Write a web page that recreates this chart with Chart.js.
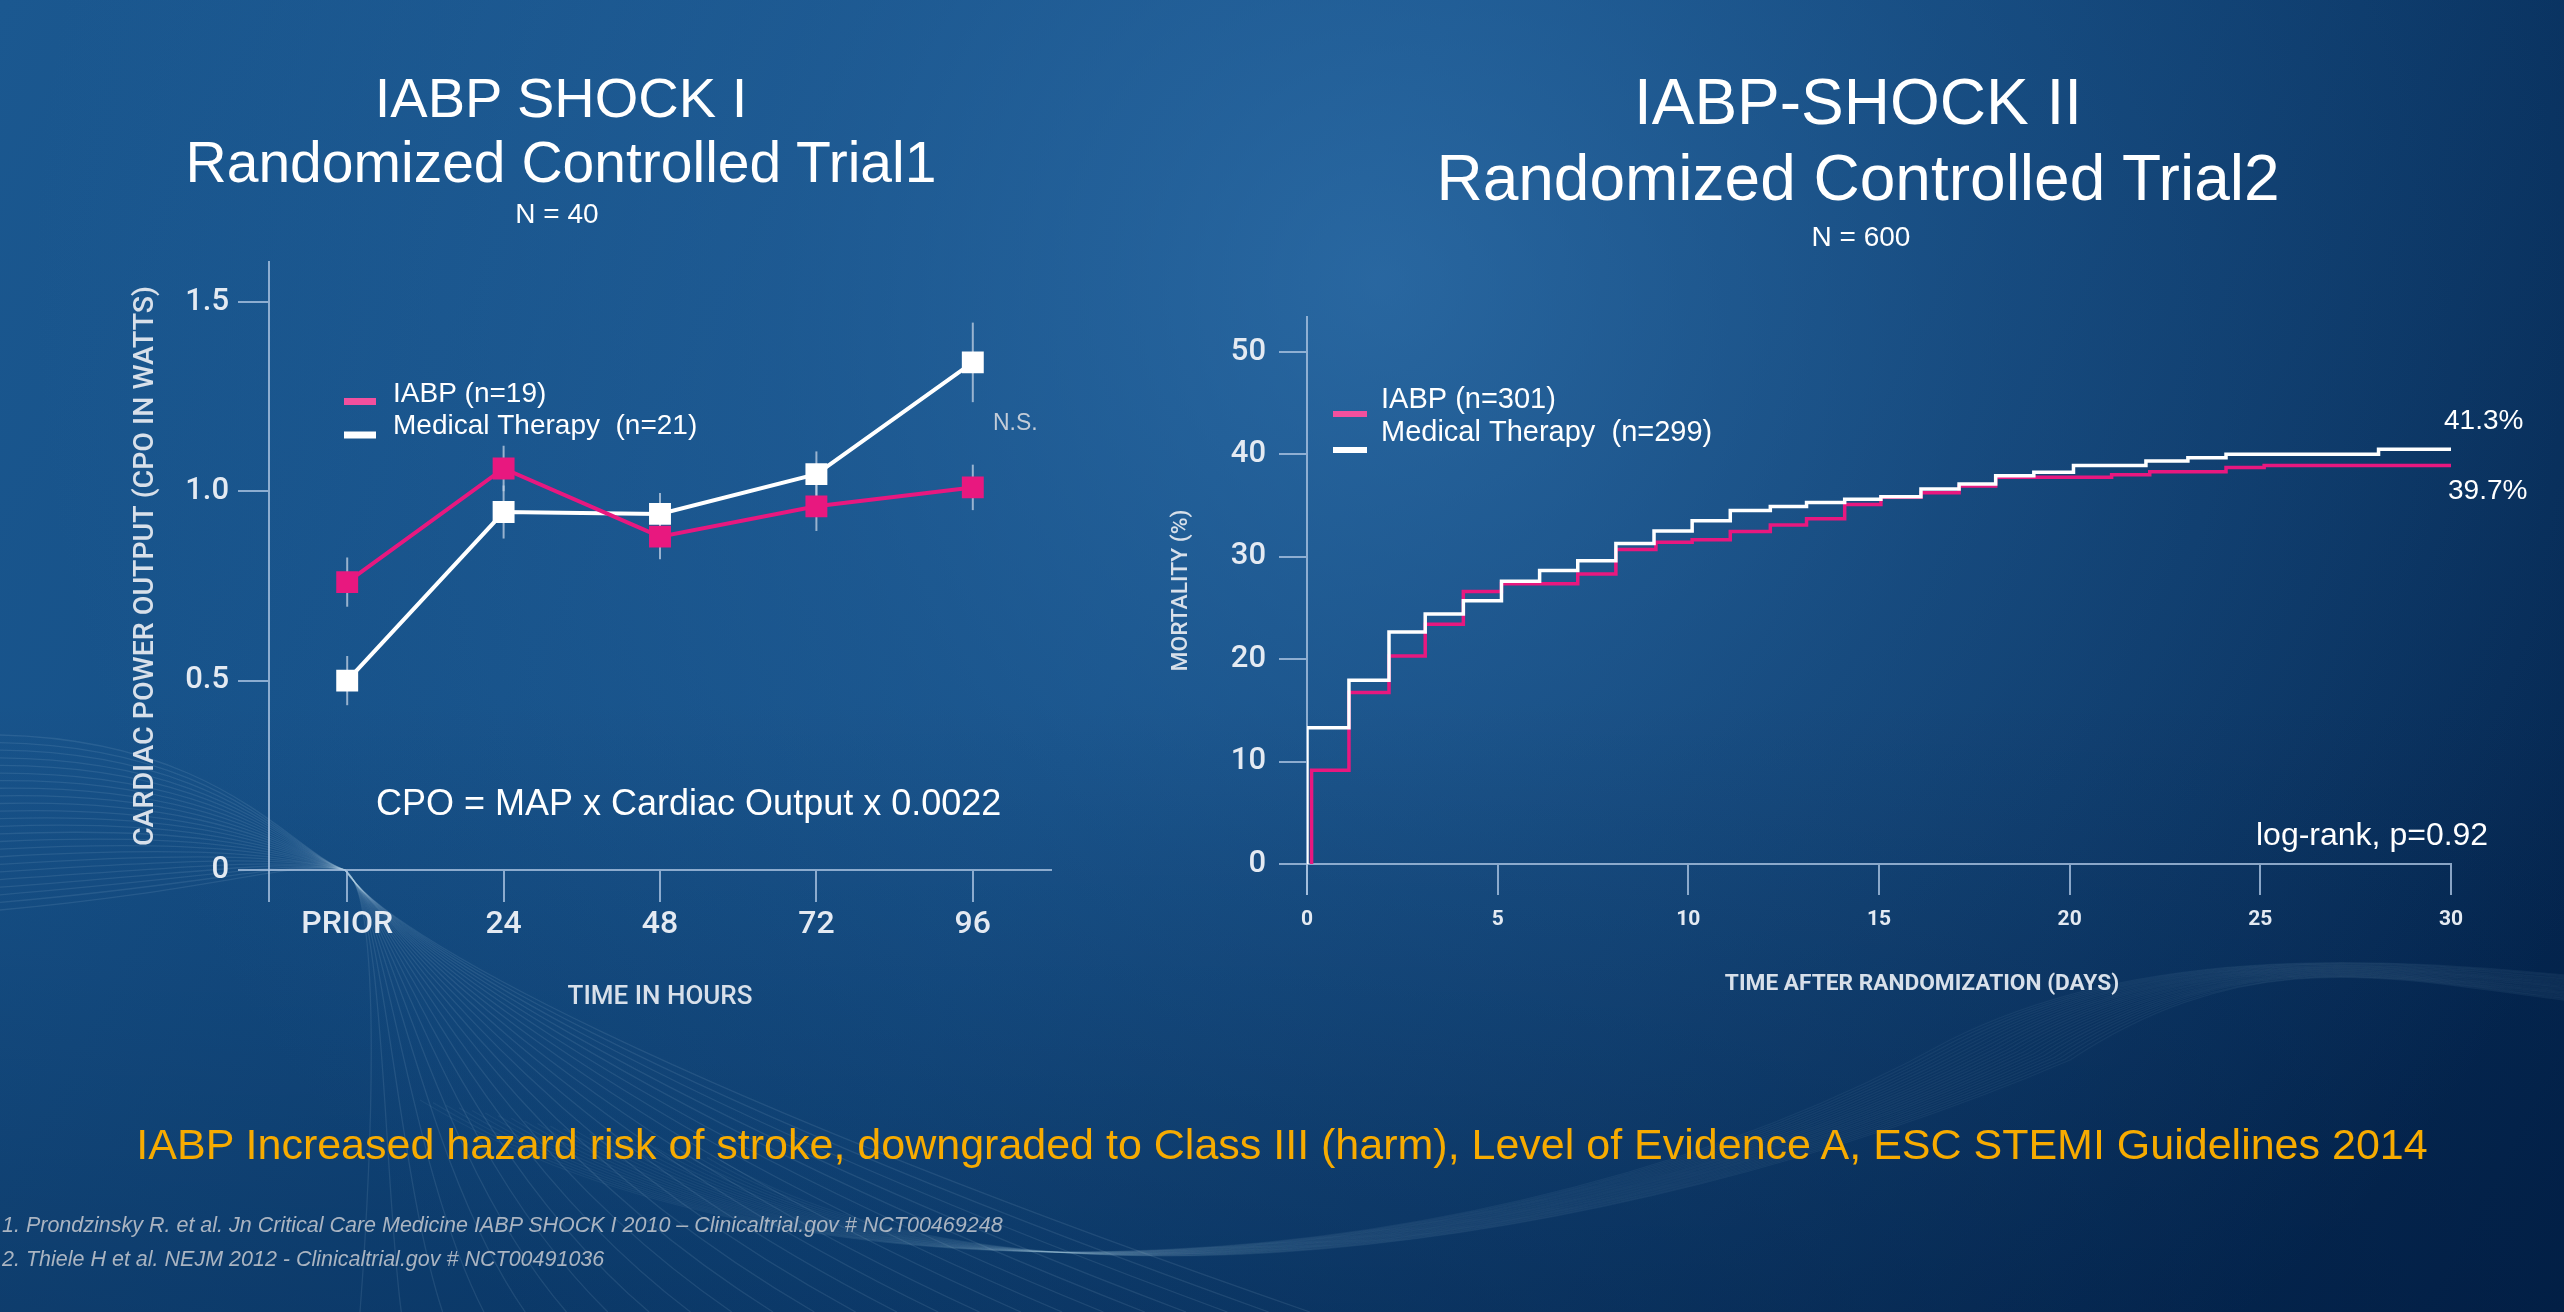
<!DOCTYPE html>
<html><head><meta charset="utf-8">
<script src="https://cdn.jsdelivr.net/npm/chart.js@4.4.1/dist/chart.umd.min.js"></script>
<style>
html,body{margin:0;padding:0;}
body{width:2564px;height:1312px;overflow:hidden;position:relative;background:#0a3a6e;font-family:"Liberation Sans",Arial,sans-serif;}
canvas{position:absolute;}
.t{position:absolute;white-space:nowrap;color:#fff;line-height:1;text-align:center;}
.f{position:absolute;white-space:nowrap;color:#aab4c1;line-height:1;font-style:italic;font-size:21.5px;left:2px;}
</style></head><body>
<canvas id="bg" width="2564" height="1312" style="left:0;top:0"></canvas>
<canvas id="cLeft" width="1200" height="1100" style="left:0;top:0"></canvas>
<canvas id="cRight" width="1414" height="1100" style="left:1150px;top:0"></canvas>

<div class="t" style="left:-39px;width:1200px;top:69.6px;font-size:56px">IABP SHOCK I</div>
<div class="t" style="left:-39px;width:1200px;top:133.7px;font-size:57px">Randomized Controlled Trial1</div>
<div class="t" style="left:-43px;width:1200px;top:200.3px;font-size:28px">N = 40</div>

<div class="t" style="left:1258px;width:1200px;top:69.8px;font-size:64px">IABP-SHOCK II</div>
<div class="t" style="left:1258px;width:1200px;top:145.8px;font-size:64px">Randomized Controlled Trial2</div>
<div class="t" style="left:1261px;width:1200px;top:223.3px;font-size:28px">N = 600</div>

<div class="t" style="left:0px;width:2564px;top:1122.6px;font-size:43px;color:#f7ab00">IABP Increased hazard risk of stroke, downgraded to Class III (harm), Level of Evidence A, ESC STEMI Guidelines 2014</div>
<div class="f" style="top:1214.8px">1. Prondzinsky R. et al. Jn Critical Care Medicine IABP SHOCK I 2010 – Clinicaltrial.gov # NCT00469248</div>
<div class="f" style="top:1248.8px">2. Thiele H et al. NEJM 2012 - Clinicaltrial.gov # NCT00491036</div>

<script>
// ---------- data ----------
const leftCategories = ['PRIOR', '24', '48', '72', '96'];
const leftIabp    = [0.76, 1.06, 0.88, 0.96, 1.01];
const leftIabpErr = [0.065, 0.06, 0.06, 0.065, 0.06];
const leftMed     = [0.50, 0.945, 0.94, 1.045, 1.34];
const leftMedErr  = [0.065, 0.07, 0.055, 0.06, 0.105];
const leftYTicks  = [0, 0.5, 1.0, 1.5];
const leftYTickLabels = ['0', '0.5', '1.0', '1.5'];

const rightMedDays = [0, 0, 1.1, 2.15, 3.1, 4.1, 5.1, 6.1, 7.1, 8.1, 9.1, 10.1, 11.1, 12.15, 13.1, 14.1, 15.05, 16.1, 17.1, 18.06, 19.06, 20.1, 22.0, 23.1, 24.1, 28.1, 30];
const rightMedMort = [0, 13.3, 17.95, 22.65, 24.4, 25.7, 27.6, 28.65, 29.6, 31.3, 32.5, 33.5, 34.5, 34.9, 35.3, 35.6, 35.85, 36.6, 37.1, 37.9, 38.25, 38.9, 39.35, 39.65, 40.0, 40.5, 40.5];
const rightIabpDays = [0.12, 0.12, 1.1, 2.15, 3.1, 4.1, 5.1, 7.1, 8.1, 9.15, 10.1, 11.1, 12.15, 13.1, 14.1, 15.05, 16.1, 17.1, 18.06, 21.1, 22.1, 24.1, 25.1, 30];
const rightIabpMort = [0, 9.15, 16.75, 20.3, 23.4, 26.6, 27.35, 28.3, 30.7, 31.4, 31.65, 32.45, 33.1, 33.7, 35.1, 35.8, 36.25, 36.9, 37.75, 38.0, 38.3, 38.7, 38.9, 38.9];
const rightXTicks = [0, 5, 10, 15, 20, 25, 30];
const rightYTicks = [0, 10, 20, 30, 40, 50];

// ---------- styles ----------
const PINK = '#e8187f';
const PINK_LEGEND = '#f2509e';
const WHITE = '#ffffff';
const AXIS = 'rgba(170,195,225,0.8)';
const TICK = '#e4eaf2';
const TITLE = '#d8e0ea';
const TICKFONT = 'Roboto, "DejaVu Sans", sans-serif';
const TEXTFONT = '"Liberation Sans", Arial, sans-serif';

// ---------- background ----------
(function(){
  const c = document.getElementById('bg');
  const g = c.getContext('2d');
  const lg = g.createLinearGradient(0, 0, 2564, 1312);
  lg.addColorStop(0, '#1b5890');
  lg.addColorStop(0.45, '#0f477d');
  lg.addColorStop(1, '#03224a');
  g.fillStyle = lg; g.fillRect(0, 0, 2564, 1312);
  const rg = g.createRadialGradient(1380, 280, 0, 1380, 280, 1350);
  rg.addColorStop(0, 'rgba(58,125,185,0.6)');
  rg.addColorStop(0.45, 'rgba(50,115,175,0.32)');
  rg.addColorStop(1, 'rgba(50,115,175,0)');
  g.fillStyle = rg; g.fillRect(0, 0, 2564, 1312);
  const dg = g.createLinearGradient(0, 700, 0, 1312);
  dg.addColorStop(0, 'rgba(0,25,60,0)');
  dg.addColorStop(1, 'rgba(0,25,60,0.35)');
  g.fillStyle = dg; g.fillRect(0, 700, 2564, 612);
  // decorative wave lines
  g.lineWidth = 1.3;
  g.strokeStyle = 'rgba(190,215,240,0.11)';
  const N = 24;
  for (let i = 0; i < N; i++) {
    const s = i / (N - 1);
    g.beginPath();
    g.moveTo(0, 735 + 175 * s);
    g.bezierCurveTo(220, 740 + 150 * s, 290, 850 + 10 * s, 345, 870);
    g.bezierCurveTo(385, 895 + 40 * s, 370 + 300 * s, 1180 - 90 * s, 360 + 950 * s, 1312);
    g.stroke();
  }
  g.strokeStyle = 'rgba(190,215,240,0.06)';
  for (let i = 0; i < N; i++) {
    const s = i / (N - 1);
    g.beginPath();
    g.moveTo(420 + 300 * s, 1100 + 60 * s);
    g.bezierCurveTo(800 + 200 * s, 1330, 1500 + 100 * s, 1290 - 30 * s, 1950 + 120 * s, 1040 + 20 * s);
    g.bezierCurveTo(2150 + 100 * s, 940, 2400, 960 + 20 * s, 2564, 975 + 25 * s);
    g.stroke();
  }
})();

// ---------- helpers ----------
function drawText(ctx, t) {
  ctx.save();
  ctx.font = (t.style || '') + ' ' + t.size + 'px ' + (t.family || TEXTFONT);
  ctx.fillStyle = t.color || '#fff';
  ctx.textAlign = t.align || 'left';
  ctx.textBaseline = t.baseline || 'alphabetic';
  ctx.fillText(t.text, t.x, t.y);
  ctx.restore();
}

function makeDecor(id, cfg) {
  return {
    id: id,
    beforeDatasetsDraw(chart) {
      if (!cfg.errorBars) return;
      const ctx = chart.ctx, ys = chart.scales.y;
      ctx.save();
      ctx.strokeStyle = 'rgba(195,210,228,0.75)';
      ctx.lineWidth = 2;
      chart.data.datasets.forEach((ds, i) => {
        const meta = chart.getDatasetMeta(i);
        meta.data.forEach((pt, j) => {
          const v = ds.data[j], e = ds.err[j];
          ctx.beginPath();
          ctx.moveTo(pt.x, ys.getPixelForValue(v + e));
          ctx.lineTo(pt.x, ys.getPixelForValue(v - e));
          ctx.stroke();
        });
      });
      ctx.restore();
    },
    afterDraw(chart) {
      const ctx = chart.ctx, a = chart.chartArea;
      // y-axis extension below the x axis
      ctx.save();
      ctx.strokeStyle = AXIS; ctx.lineWidth = 2;
      ctx.beginPath();
      ctx.moveTo(a.left, a.bottom);
      ctx.lineTo(a.left, a.bottom + cfg.ext);
      ctx.stroke();
      ctx.restore();
      // legend
      const L = cfg.legend;
      chart.data.datasets.forEach((ds, i) => {
        ctx.save();
        ctx.fillStyle = ds.legendColor;
        ctx.fillRect(L.x, L.swatchY[i] - L.h / 2, L.w, L.h);
        ctx.restore();
        drawText(ctx, {text: ds.label, x: L.textX, y: L.textY[i], size: L.size, color: '#fff'});
      });
      cfg.notes.forEach(n => drawText(ctx, n));
    }
  };
}

// ---------- left chart ----------
new Chart(document.getElementById('cLeft'), {
  type: 'line',
  data: {
    labels: leftCategories,
    datasets: [
      {label: 'IABP (n=19)', data: leftIabp, err: leftIabpErr, borderColor: PINK, backgroundColor: PINK,
       pointBackgroundColor: PINK, pointBorderWidth: 0, pointStyle: 'rect', pointRadius: 15.5, borderWidth: 4,
       tension: 0, order: 0, legendColor: PINK_LEGEND},
      {label: 'Medical Therapy  (n=21)', data: leftMed, err: leftMedErr, borderColor: WHITE, backgroundColor: WHITE,
       pointBackgroundColor: WHITE, pointBorderWidth: 0, pointStyle: 'rect', pointRadius: 15.5, borderWidth: 4,
       tension: 0, order: 1, legendColor: WHITE}
    ]
  },
  options: {
    responsive: false, animation: false, devicePixelRatio: 1,
    layout: {padding: {left: 119, right: 149, top: 262, bottom: 80}},
    plugins: {legend: {display: false}, tooltip: {enabled: false}},
    scales: {
      x: {
        type: 'category', offset: true,
        grid: {display: true, drawOnChartArea: false, drawTicks: true, tickLength: 32, color: AXIS, lineWidth: 2, offset: false},
        border: {display: true, color: AXIS, width: 2},
        ticks: {color: TICK, font: {family: TICKFONT, size: 32, weight: '500'}, padding: 4, maxRotation: 0, autoSkip: false},
        title: {display: true, text: 'TIME IN HOURS', color: TITLE, font: {family: TICKFONT, size: 26, weight: '500'}, padding: {top: 0, bottom: 7}},
        afterFit(s) { s.height = 150; }
      },
      y: {
        min: 0, max: 1.605,
        afterBuildTicks(s) { s.ticks = leftYTicks.map(v => ({value: v})); },
        grid: {display: true, drawOnChartArea: false, drawTicks: true, tickLength: 31, color: AXIS, lineWidth: 2},
        border: {display: true, color: AXIS, width: 2},
        ticks: {color: TICK, font: {family: TICKFONT, size: 31, weight: '500'}, padding: 9,
                callback: (v, i) => leftYTickLabels[i]},
        title: {display: true, text: 'CARDIAC POWER OUTPUT (CPO IN WATTS)', color: TITLE,
                font: {family: TICKFONT, size: 28.5, weight: '500'}, padding: {top: 10, bottom: 0}},
        afterFit(s) { s.width = 150; }
      }
    }
  },
  plugins: [makeDecor('leftDecor', {
    errorBars: true, ext: 32,
    legend: {x: 344, w: 32, h: 7, swatchY: [401.5, 435], textX: 393, textY: [402, 434], size: 28},
    notes: [
      {text: 'N.S.', x: 993, y: 430, size: 23, color: '#c3ccd8'},
      {text: 'CPO = MAP x Cardiac Output x 0.0022', x: 376, y: 815, size: 36, color: '#ffffff'}
    ]
  })]
});

// ---------- right chart ----------
new Chart(document.getElementById('cRight'), {
  type: 'line',
  data: {
    datasets: [
      {label: 'IABP (n=301)', data: rightIabpDays.map((d, i) => ({x: d, y: rightIabpMort[i]})),
       stepped: true, borderColor: PINK, borderWidth: 3.5, pointRadius: 0, fill: false, order: 1, legendColor: PINK_LEGEND},
      {label: 'Medical Therapy  (n=299)', data: rightMedDays.map((d, i) => ({x: d, y: rightMedMort[i]})),
       stepped: true, borderColor: WHITE, borderWidth: 3.5, pointRadius: 0, fill: false, order: 0, legendColor: WHITE}
    ]
  },
  options: {
    responsive: false, animation: false, devicePixelRatio: 1,
    layout: {padding: {left: 7, right: 113, top: 317, bottom: 86}},
    plugins: {legend: {display: false}, tooltip: {enabled: false}},
    scales: {
      x: {
        type: 'linear', min: 0, max: 30,
        afterBuildTicks(s) { s.ticks = rightXTicks.map(v => ({value: v})); },
        grid: {display: true, drawOnChartArea: false, drawTicks: true, tickLength: 31, color: AXIS, lineWidth: 2},
        border: {display: true, color: AXIS, width: 2},
        ticks: {color: TICK, font: {family: TICKFONT, size: 21, weight: 'bold'}, padding: 12, maxRotation: 0},
        afterFit(s) { s.height = 150; }
      },
      y: {
        min: 0, max: 53.4,
        afterBuildTicks(s) { s.ticks = rightYTicks.map(v => ({value: v})); },
        grid: {display: true, drawOnChartArea: false, drawTicks: true, tickLength: 28, color: AXIS, lineWidth: 2},
        border: {display: true, color: AXIS, width: 2},
        ticks: {color: TICK, font: {family: TICKFONT, size: 31, weight: '500'}, padding: 13},
        title: {display: true, text: 'MORTALITY (%)', color: TITLE,
                font: {family: TICKFONT, size: 22.8, weight: '500'}, padding: {top: 10.3, bottom: 0}},
        afterFit(s) { s.width = 150; }
      }
    }
  },
  plugins: [makeDecor('rightDecor', {
    errorBars: false, ext: 31,
    legend: {x: 183, w: 34, h: 6, swatchY: [414, 450], textX: 231, textY: [408, 441], size: 29},
    notes: [
      {text: '41.3%', x: 1294, y: 429, size: 28},
      {text: '39.7%', x: 1298, y: 499, size: 28},
      {text: 'log-rank, p=0.92', x: 1106, y: 845, size: 32},
      {text: 'TIME AFTER RANDOMIZATION (DAYS)', x: 772, y: 984, size: 22.7, style: 'bold', family: TICKFONT,
       align: 'center', baseline: 'middle', color: TITLE}
    ]
  })]
});
</script>
</body></html>
